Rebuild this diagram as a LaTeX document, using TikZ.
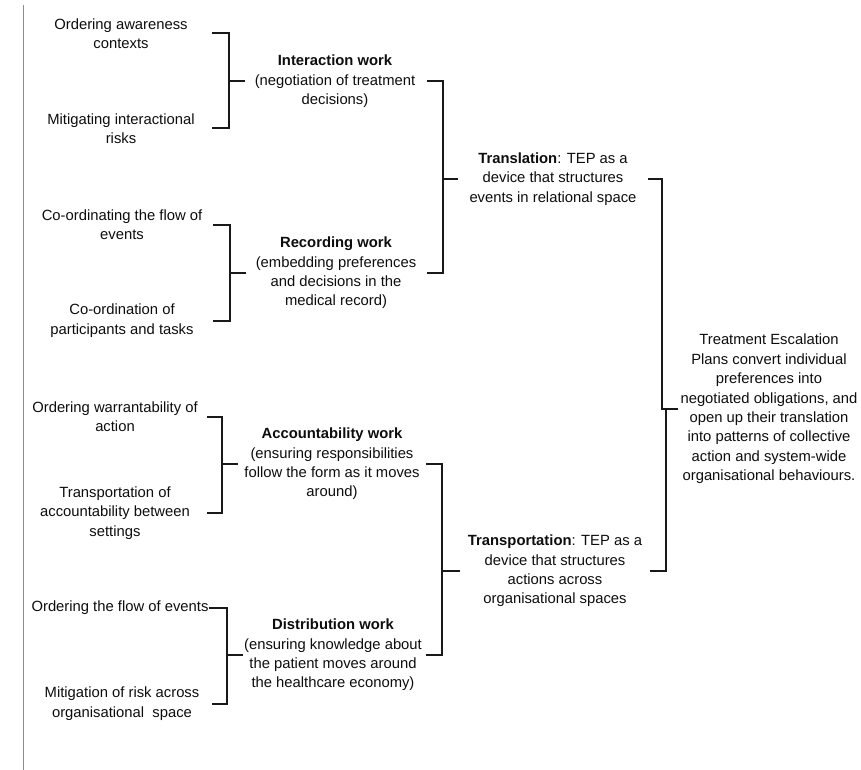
\documentclass[tikz,border=0pt]{standalone}
\usepackage{fontspec}
\setmainfont{Liberation Sans}
\begin{document}
\begin{tikzpicture}[x=1pt,y=-1pt,
  every node/.style={font=\fontsize{14.8}{19.4}\selectfont, text=black!95, align=center, inner sep=0pt},
  brk/.style={draw=black!90, line width=2pt, line cap=butt},
  rule/.style={draw=black!45, line width=1pt}]
\useasboundingbox (0,0) rectangle (861,770);

% margin rule
\draw[rule] (23,5) -- (23,770);

% leaf activities
\node (L1) at (121,33.5) {Ordering awareness\\contexts};
\node (L2) at (121,128.5) {Mitigating interactional\\risks};
\node (L3) at (122,224.5) {Co-ordinating the flow of\\events};
\node (L4) at (122,320.5) {Co-ordination of\\participants and tasks};
\node (L5) at (115,417) {Ordering warrantability of\\action};
\node (L6) at (115,513) {Transportation of\\accountability between\\settings};
\node (L7) at (120,608) {Ordering the flow of events};
\node (L8) at (122,703.5) {Mitigation of risk across\\organisational\ \ space};

% kinds of work
\node (M1) at (335,81.5) {\textbf{Interaction work}\\(negotiation of treatment\\decisions)};
\node (M2) at (336,273) {\textbf{Recording work}\\(embedding preferences\\and decisions in the\\medical record)};
\node (M3) at (332,464) {\textbf{Accountability work}\\(ensuring responsibilities\\follow the form as it moves\\around)};
\node (M4) at (333,655) {\textbf{Distribution work}\\(ensuring knowledge about\\the patient moves around\\the healthcare economy)};

% mechanisms
\node (R1) at (553,179) {\textbf{Translation}: TEP as a\\device that structures\\events in relational space};
\node (R2) at (555,571) {\textbf{Transportation}: TEP as a\\device that structures\\actions across\\organisational spaces};

% summary
\node (F) at (769,409) {Treatment Escalation\\Plans convert individual\\preferences into\\negotiated obligations, and\\open up their translation\\into patterns of collective\\action and system-wide\\organisational behaviours.};

% bracket columns
\coordinate (a1) at (212,0); \coordinate (v1) at (229,0); \coordinate (t1) at (245,0);
\coordinate (a2) at (213,0); \coordinate (v2) at (230,0); \coordinate (t2) at (246,0);
\coordinate (a3) at (207,0); \coordinate (v3) at (222,0); \coordinate (t3) at (238,0);
\coordinate (a4) at (212,0); \coordinate (v4) at (227,0); \coordinate (t4) at (243,0);
\coordinate (a5) at (427,0); \coordinate (v5) at (443,0); \coordinate (t5) at (458,0);
\coordinate (a6) at (426,0); \coordinate (v6) at (442,0); \coordinate (t6) at (460,0);
\coordinate (a7) at (648,0); \coordinate (v7) at (662,0); \coordinate (w7) at (666,0); \coordinate (t7) at (678,0);

% activities -> kinds of work
\draw[brk] (a1 |- L1) -| (v1 |- L2) -- (a1 |- L2);
\draw[brk] (v1 |- M1) -- (t1 |- M1);
\draw[brk] (a2 |- L3) -| (v2 |- L4) -- (a2 |- L4);
\draw[brk] (v2 |- M2) -- (t2 |- M2);
\draw[brk] (a3 |- L5) -| (v3 |- L6) -- (a3 |- L6);
\draw[brk] (v3 |- M3) -- (t3 |- M3);
\draw[brk] (L7.east) -| (v4 |- L8) -- (a4 |- L8);
\draw[brk] (v4 |- M4) -- (t4 |- M4);

% kinds of work -> mechanisms
\draw[brk] (a5 |- M1) -| (v5 |- M2) -- (a5 |- M2);
\draw[brk] (v5 |- R1) -- (t5 |- R1);
\draw[brk] (a6 |- M3) -| (v6 |- M4) -- (a6 |- M4);
\draw[brk] (v6 |- R2) -- (t6 |- R2);

% mechanisms -> summary
\draw[brk] (a7 |- R1) -| (v7 |- F) -- (t7 |- F);
\draw[brk] ([xshift=2pt]a7 |- R2) -| (w7 |- F);
\end{tikzpicture}
\end{document}
